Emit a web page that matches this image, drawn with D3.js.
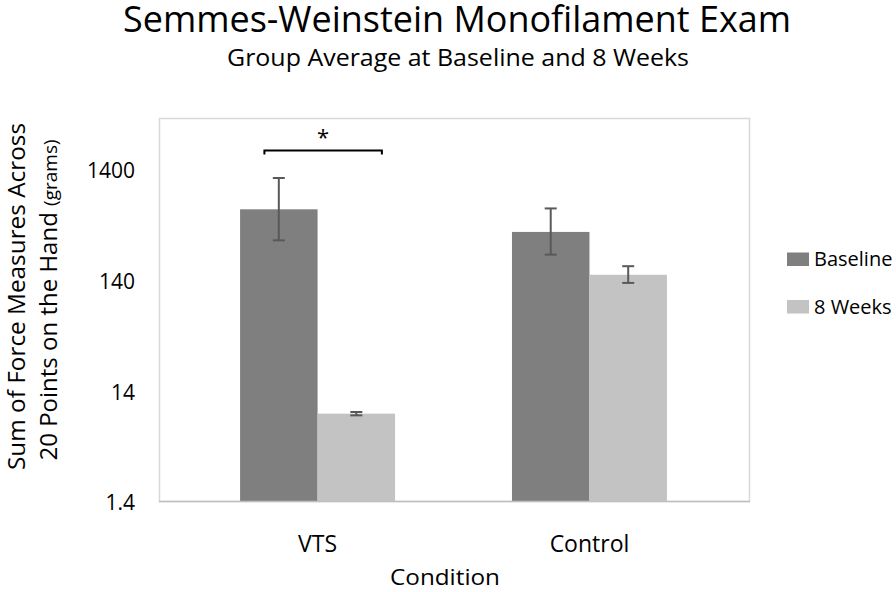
<!DOCTYPE html>
<html>
<head>
<meta charset="utf-8">
<script src="https://cdn.jsdelivr.net/npm/d3@7/dist/d3.min.js"></script>
<style>
  html, body { margin: 0; padding: 0; background: #fff; }
  text { font-family: "Open Sans", "Noto Sans", sans-serif; fill: #000; }
</style>
</head>
<body>
<svg id="chart" width="896" height="592"></svg>
<script>
// ---- Data ----
const categories = ["VTS", "Control"];
const seriesNames = ["Baseline", "8 Weeks"];
const baselineValues = [600, 375];
const weeks8Values = [8.6, 154];
const baselineErrLow = [315, 234];
const baselineErrHigh = [1150, 611];
const weeks8ErrLow = [8.3, 130];
const weeks8ErrHigh = [8.9, 184];
const yTickValues = [1.4, 14, 140, 1400];
const yTickLabels = ["1.4", "14", "140", "1400"];
const titleText = "Semmes-Weinstein Monofilament Exam";
const subtitleText = "Group Average at Baseline and 8 Weeks";
const xAxisTitle = "Condition";
const significance = { category: "VTS", label: "*" };

const seriesColors = ["#7f7f7f", "#c3c3c3"];

// table built from arrays
const rows = categories.map((c, i) => ({
  category: c,
  values: [
    { series: seriesNames[0], value: baselineValues[i], lo: baselineErrLow[i], hi: baselineErrHigh[i] },
    { series: seriesNames[1], value: weeks8Values[i], lo: weeks8ErrLow[i], hi: weeks8ErrHigh[i] }
  ]
}));

const svg = d3.select("#chart");
const plot = { left: 159, right: 749, top: 118, bottom: 501 };

const x0 = d3.scaleBand().domain(categories)
  .range([plot.left, plot.right])
  .paddingInner(0.43).paddingOuter(0.30).align(0.497);
const x1 = d3.scaleBand().domain(seriesNames).range([0, x0.bandwidth()]).padding(0);
const y = d3.scaleLog().domain([1.4, 4000]).range([plot.bottom, plot.top]);
const color = d3.scaleOrdinal().domain(seriesNames).range(seriesColors);

// plot border
svg.append("rect")
  .attr("x", plot.left + 0.5).attr("y", plot.top + 0.5)
  .attr("width", plot.right - plot.left).attr("height", plot.bottom - plot.top)
  .attr("fill", "none").attr("stroke", "#d9d9d9").attr("stroke-width", 1.5);

// bars
const groups = svg.append("g").selectAll("g").data(rows).join("g")
  .attr("transform", d => `translate(${x0(d.category)},0)`);

groups.selectAll("rect.bar").data(d => d.values).join("rect")
  .attr("class", "bar")
  .attr("x", d => x1(d.series))
  .attr("width", x1.bandwidth())
  .attr("y", d => y(d.value))
  .attr("height", d => y(1.4) - y(d.value))
  .attr("fill", d => color(d.series));

// bottom axis line
svg.append("line")
  .attr("x1", plot.left).attr("x2", plot.right + 1)
  .attr("y1", plot.bottom + 0.5).attr("y2", plot.bottom + 0.5)
  .attr("stroke", "#bfbfbf").attr("stroke-width", 1.5);

// error bars
const capW = 12;
const eb = groups.selectAll("g.err").data(d => d.values).join("g")
  .attr("class", "err")
  .attr("transform", d => `translate(${x1(d.series) + x1.bandwidth() / 2},0)`)
  .attr("stroke", "#595959").attr("stroke-width", 2);
eb.append("line").attr("x1", 0).attr("x2", 0)
  .attr("y1", d => y(d.hi)).attr("y2", d => y(d.lo));
eb.append("line").attr("x1", -capW / 2).attr("x2", capW / 2)
  .attr("y1", d => y(d.hi)).attr("y2", d => y(d.hi));
eb.append("line").attr("x1", -capW / 2).attr("x2", capW / 2)
  .attr("y1", d => y(d.lo)).attr("y2", d => y(d.lo));

// significance bracket
const sx = x0(significance.category);
const bw = x0.bandwidth();
const bx1 = sx + bw * 0.157, bx2 = sx + bw * 0.915, by = 150.5;
svg.append("path")
  .attr("d", `M${bx1},${by + 4}V${by}H${bx2}V${by + 4}`)
  .attr("fill", "none").attr("stroke", "#000").attr("stroke-width", 2);
svg.append("text")
  .attr("x", (bx1 + bx2) / 2).attr("y", 145)
  .attr("text-anchor", "middle").attr("font-size", 22)
  .text(significance.label);

// y axis
const yAxis = d3.axisLeft(y).tickValues(yTickValues)
  .tickFormat((d, i) => yTickLabels[i]).tickSize(0).tickPadding(24);
const yg = svg.append("g").attr("transform", `translate(${plot.left},0)`).call(yAxis);
yg.select(".domain").remove();
yg.selectAll("text").attr("font-family", "'Open Sans', sans-serif")
  .attr("font-size", 21).attr("fill", "#000").attr("dy", "0.42em");

// x axis
const xAxis = d3.axisBottom(x0).tickSize(0).tickPadding(35);
const xg = svg.append("g").attr("transform", `translate(0,${plot.bottom})`).call(xAxis);
xg.select(".domain").remove();
xg.selectAll("text").attr("font-family", "'Open Sans', sans-serif")
  .attr("font-size", 23).attr("fill", "#000");

// titles
svg.append("text").attr("x", 457).attr("y", 32).attr("text-anchor", "middle")
  .attr("font-size", 36).attr("textLength", 668).attr("lengthAdjust", "spacingAndGlyphs")
  .text(titleText);
svg.append("text").attr("x", 458).attr("y", 66).attr("text-anchor", "middle")
  .attr("font-size", 23).attr("textLength", 462).attr("lengthAdjust", "spacingAndGlyphs")
  .text(subtitleText);
svg.append("text").attr("x", 445).attr("y", 585).attr("text-anchor", "middle")
  .attr("font-size", 22).attr("textLength", 110).attr("lengthAdjust", "spacingAndGlyphs")
  .text(xAxisTitle);

// y axis title (two lines)
svg.append("text").attr("transform", "translate(25,296.5) rotate(-90)")
  .attr("text-anchor", "middle").attr("font-size", 24)
  .attr("textLength", 347).attr("lengthAdjust", "spacingAndGlyphs")
  .text("Sum of Force Measures Across");
const l2 = svg.append("text").attr("transform", "translate(57,300) rotate(-90)")
  .attr("text-anchor", "middle");
l2.append("tspan").attr("font-size", 24).text("20 Points on the Hand ");
l2.append("tspan").attr("font-size", 19).text("(grams)");

// legend
const legend = svg.append("g").selectAll("g").data(seriesNames).join("g")
  .attr("transform", (d, i) => `translate(787,${252.5 + i * 47.5})`);
legend.append("rect").attr("width", 22).attr("height", 13.5).attr("fill", d => color(d));
legend.append("text").attr("x", 27).attr("y", 13.5).attr("font-size", 20).text(d => d);
</script>
</body>
</html>
